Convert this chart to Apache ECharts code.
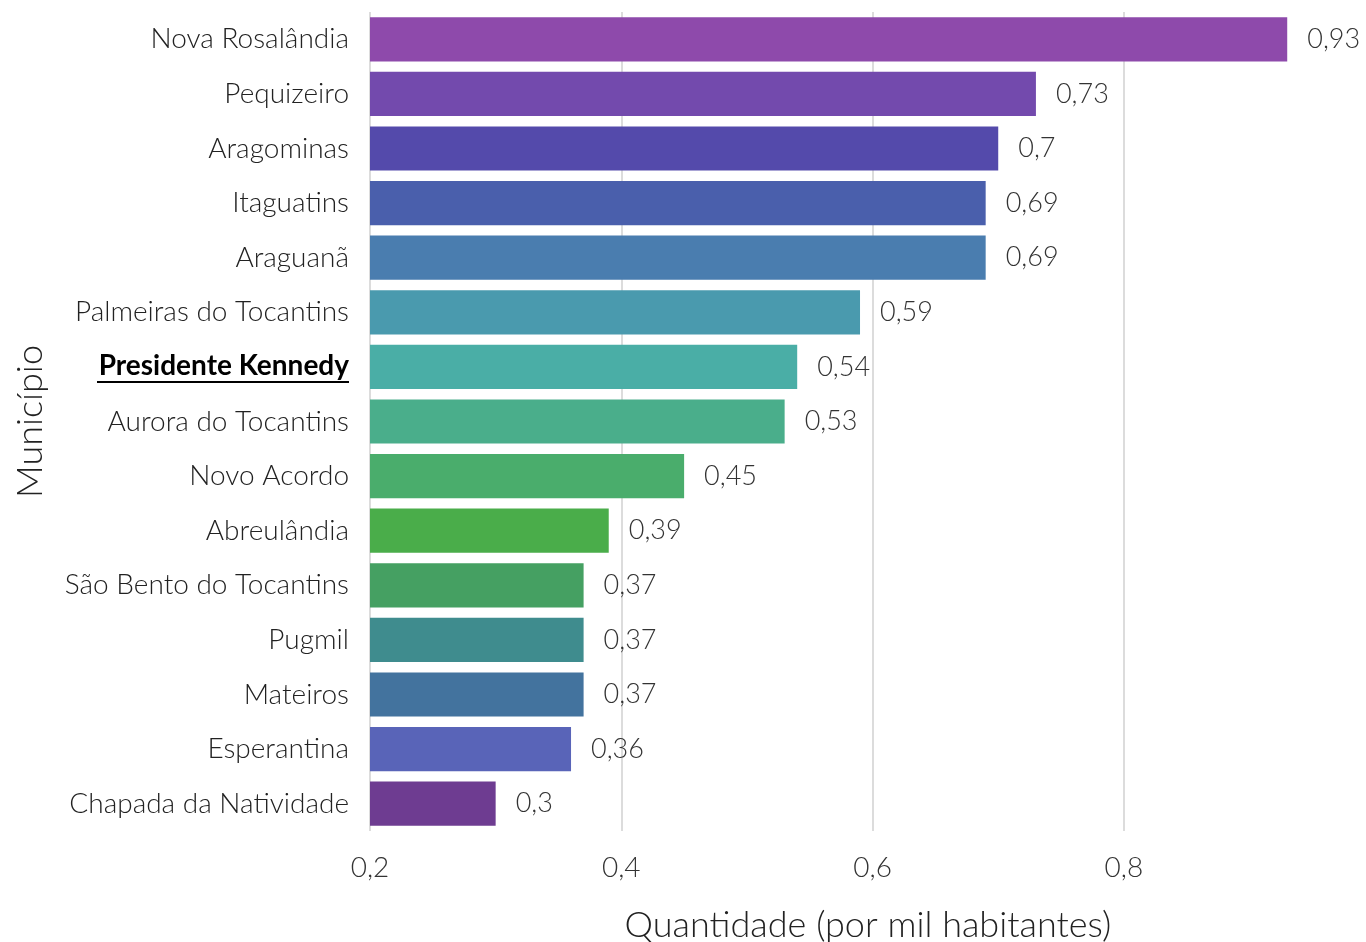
<!DOCTYPE html>
<html>
<head>
<meta charset="utf-8">
<script src="https://cdn.jsdelivr.net/npm/echarts@6/dist/echarts.min.js"></script>
<style>html,body{margin:0;padding:0;background:#fff}#c{width:1366px;height:942px}</style>
</head>
<body>
<div id="c"></div>
<script>
const categories = ['Nova Rosalândia','Pequizeiro','Aragominas','Itaguatins','Araguanã','Palmeiras do Tocantins','Presidente Kennedy','Aurora do Tocantins','Novo Acordo','Abreulândia','São Bento do Tocantins','Pugmil','Mateiros','Esperantina','Chapada da Natividade'];
const values = [0.93,0.73,0.7,0.69,0.69,0.59,0.54,0.53,0.45,0.39,0.37,0.37,0.37,0.36,0.3];
const barColors = ['#8e4aab','#734aad','#544aab','#4a5fac','#4a7daf','#4a9aae','#4aaea6','#4aae8b','#4aad6c','#4aad4a','#45a062','#3f8c8e','#43739e','#5964b8','#6e3c91'];
const highlighted = 'Presidente Kennedy';
const xTicks = [0.2, 0.4, 0.6, 0.8];

const FONT = 'Lato';
const fmt = v => String(v).replace('.', ',');

const cv = document.createElement('canvas').getContext('2d');
cv.font = 'bold 28px Lato';
const ulWidth = Math.round(cv.measureText(highlighted).width) + 2;

const chart = echarts.init(document.getElementById('c'), null, {renderer:'canvas'});
chart.setOption({
  backgroundColor: '#fff',
  animation: false,
  grid: {left: 370, top: 12, height: 819, width: 996, containLabel: false, outerBoundsMode: 'none'},
  xAxis: {
    type: 'value', min: xTicks[0], max: 0.9927, interval: 0.2,
    name: 'Quantidade (por mil habitantes)', nameLocation: 'middle', nameGap: 76,
    nameTextStyle: {fontFamily: FONT, fontWeight: 300, fontSize: 36, color: '#222'},
    axisLine: {show: false}, axisTick: {show: false},
    axisLabel: {fontFamily: FONT, fontWeight: 300, fontSize: 28, color: '#333', margin: 23,
      showMaxLabel: false, formatter: v => fmt(+v.toFixed(2))},
    splitLine: {show: true, showMaxLine: false, lineStyle: {color: '#dcdcdc', width: 2}}
  },
  yAxis: {
    type: 'category', data: categories, inverse: true,
    name: 'Município', nameLocation: 'middle', nameGap: 322,
    nameTextStyle: {fontFamily: FONT, fontWeight: 300, fontSize: 36, color: '#222'},
    axisLine: {show: false}, axisTick: {show: false},
    axisLabel: {
      fontFamily: FONT, fontWeight: 300, fontSize: 28, color: '#222', margin: 21,
      formatter: v => v === highlighted ? '{pk|' + v + '}\n{ul|}' : v,
      rich: {
        pk: {fontFamily: FONT, fontWeight: 'bold', fontSize: 28, color: '#000', lineHeight: 30},
        ul: {width: ulWidth, height: 2, backgroundColor: '#000', lineHeight: 2}
      }
    },
    splitLine: {show: false}
  },
  series: [{
    type: 'bar',
    data: values.map((v, i) => ({value: v, itemStyle: {color: barColors[i]}})),
    barCategoryGap: '19%',
    clip: true,
    label: {show: true, position: 'right', distance: 20, fontFamily: FONT, fontWeight: 300,
      fontSize: 27, color: '#333', formatter: p => fmt(p.value)}
  }]
});
</script>
</body>
</html>
